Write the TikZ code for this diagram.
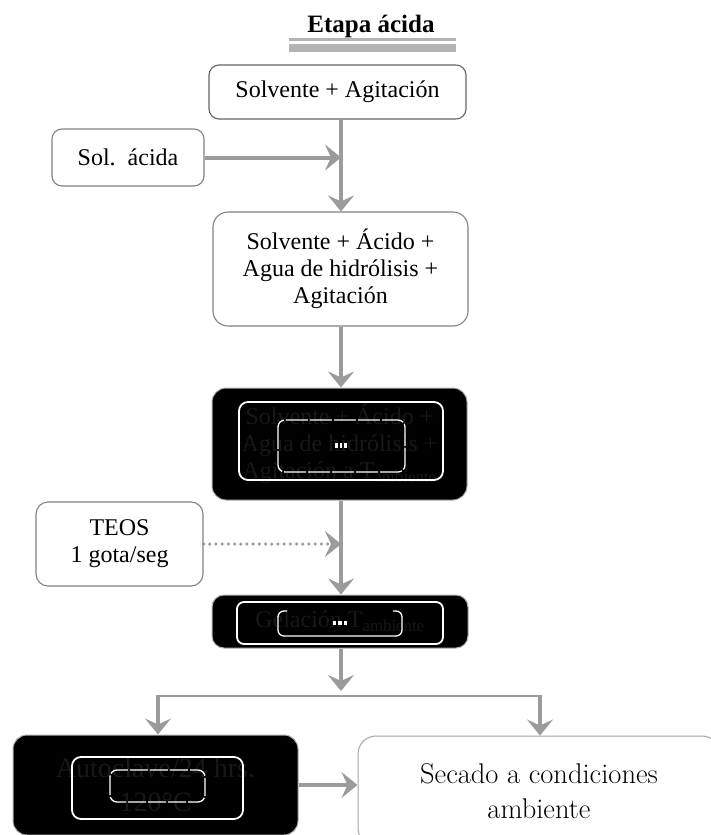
\documentclass[tikz,border=0pt]{standalone}
\usepackage{fontspec}
\newfontfamily\tnr{Liberation Serif}
\usetikzlibrary{arrows.meta}
\definecolor{arr}{RGB}{155,155,155}
\definecolor{bord}{RGB}{100,100,100}
\definecolor{bordl}{RGB}{130,130,130}
\definecolor{bords}{RGB}{165,165,165}
\definecolor{dtext}{RGB}{24,24,24}
\definecolor{uline}{RGB}{180,180,180}
\begin{document}
\begin{tikzpicture}[x=1pt,y=-1pt,
  wbox/.style={draw=bord, line width=1.1pt, rounded corners=10pt, fill=white, align=center,
    font=\tnr\fontsize{24}{27}\selectfont, inner sep=0pt},
  bbox/.style={draw=gray!60, line width=1pt, rounded corners=14pt, fill=black, text=dtext, align=center,
    font=\tnr\fontsize{24}{27}\selectfont, inner sep=0pt},
  garrow/.style={draw=arr, line width=4pt, -{Stealth[length=16pt,width=26pt,inset=6pt]}},
  dotarrow/.style={draw=arr, line width=3.5pt, line cap=round, dash pattern=on 0pt off 6.2pt,
    -{Stealth[length=16pt,width=26pt,inset=6pt]}},
  wline/.style={draw=white, line width=1.8pt, rounded corners=9pt},
  wthin/.style={draw=white, line width=1.3pt, rounded corners=7pt},
]
\useasboundingbox (0,0) rectangle (710,835);

% title
\node[font=\tnr\bfseries\fontsize{25}{30}\selectfont, anchor=base, inner sep=0pt] (title) at (371,32) {Etapa ácida};
\draw[uline, line width=2.5pt] (289,39.5) -- (456,39.5);
\draw[uline, line width=8pt] (289,47.5) -- (456,47.5);

\coordinate (spine) at (341,0);

% boxes
\node[wbox, minimum width=257pt, minimum height=54pt] (b1) at (337.5,92) {Solvente + Agitación};
\node[wbox, draw=bordl, minimum width=152pt, minimum height=57pt] (sol) at (128,157.5) {Sol.\ \ ácida};
\node[wbox, draw=bordl, rounded corners=15pt, minimum width=255pt, minimum height=114pt] (b2) at (340.5,269)
  {Solvente + Ácido +\\Agua de hidrólisis +\\Agitación};
\node[bbox, minimum width=255pt, minimum height=112pt] (d3) at (339.5,444)
  {Solvente + Ácido +\\Agua de hidrólisis +\\Agitación a T\textsubscript{ambiente}};
\node[wbox, draw=bordl, rounded corners=12pt, minimum width=167pt, minimum height=84pt] (teos) at (119.5,544)
  {TEOS\\1 gota/seg};
\node[bbox, rounded corners=12pt, minimum width=256pt, minimum height=53pt] (gel) at (340,621.5)
  {Gelación T\textsubscript{ambiente}};
\node[bbox, minimum width=285pt, minimum height=100pt, font=\tnr\fontsize{28}{34}\selectfont] (auto) at (155.5,785)
  {Autoclave/24 hrs.\\120°C};
\node[draw=bords, line width=1pt, rounded corners=18pt, fill=white, align=center, inner sep=0pt,
  font=\fontsize{28.5}{35}\selectfont, minimum width=362pt, minimum height=110pt] (sec) at (539,791)
  {Secado a condiciones\\ambiente};

% white outlines in dark boxes
\draw[wline] (239,402) rectangle (443,480);
\draw[wthin, dash pattern=on 22pt off 2pt] (278,420) rectangle (405,472);
\fill[white] (335,443) rectangle (337.5,448);
\fill[white] (339.5,443) rectangle (342,448);
\fill[white] (344,443) rectangle (347,448);

\draw[wline, rounded corners=7pt] (237,602) rectangle (443,644);
\draw[wthin, rounded corners=6pt] (287,611) -- (278,611) -- (278,636) -- (402,636) -- (402,611) -- (393,611);
\fill[white] (333,621) rectangle (336,625);
\fill[white] (338,621) rectangle (341.5,625);
\fill[white] (343.5,621) rectangle (347,625);

\draw[wline] (72,757) rectangle (243,819);
\draw[wthin, dash pattern=on 18pt off 2pt] (110,770) rectangle (205,802);

% connectors
\draw[garrow] (b1.south -| spine) -- (b2.north -| spine);
\draw[garrow] (sol.east) -- (sol.east -| spine);
\draw[garrow] (b2.south -| spine) -- (d3.north -| spine);
\draw[garrow] (d3.south -| spine) -- (gel.north -| spine);
\draw[dotarrow] (teos.east) -- (teos.east -| spine);

\coordinate (gtip) at (341,691);
\coordinate (sl) at (158,696);
\coordinate (sr) at (540,696);
\draw[garrow] (gel.south -| spine) -- (gtip);
\draw[arr, line width=2pt] (sl) -- (sr);
\draw[garrow] ([yshift=1pt]sl) -- (sl |- auto.north);
\draw[garrow] ([yshift=1pt]sr) -- (sr |- sec.north);
\draw[garrow] (auto.east) -- (auto.east -| sec.west);
\end{tikzpicture}
\end{document}
